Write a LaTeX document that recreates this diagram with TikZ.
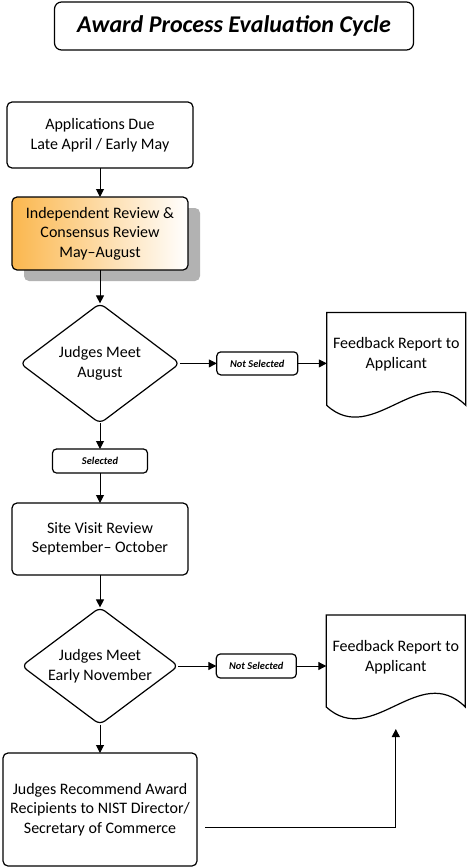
\documentclass[tikz,border=0pt]{standalone}
\usepackage{fontspec}
\setmainfont{Carlito}
\usetikzlibrary{positioning}
\usetikzlibrary{shapes.geometric}
\usetikzlibrary{arrows.meta}
\usetikzlibrary{shadows}
\definecolor{revorange}{RGB}{251,183,78}

\begin{document}
\begin{tikzpicture}
		[box/.style={rectangle, rounded corners=5pt, draw=black, line width=1.2pt, outer sep=0pt, align=center, font=\fontsize{16}{19.5}\selectfont},
		decision/.style={diamond, rounded corners=6pt, draw=black, line width=1.2pt, outer sep=0pt, align=center, inner sep=0pt, shape aspect=1.3, font=\fontsize{16}{19.5}\selectfont},
		tag/.style={rectangle, rounded corners=4pt, draw=black, line width=1.2pt, outer sep=0pt, inner sep=0pt, font=\fontsize{10.4}{12}\selectfont\bfseries\itshape},
		doc/.style={rectangle, minimum width=139pt, minimum height=84pt, outer sep=0pt, inner sep=0pt, align=center, font=\fontsize{16}{19.5}\selectfont},
		>={Triangle[length=8pt, width=8pt]}, line width=1pt]
		\useasboundingbox (0,0) rectangle (472pt,-867pt);
		\node[box, minimum width=359pt, minimum height=48pt, rounded corners=7pt, font=\fontsize{24}{28}\selectfont\bfseries\itshape] (title) at (234pt,-26pt) {Award Process Evaluation Cycle};
		\node[box, minimum width=186pt, minimum height=66pt] (apps) at (100pt,-135pt) {Applications Due\\Late April / Early May};
		\node[box, below=29pt of apps, minimum width=176pt, minimum height=73pt, shading=axis, left color=revorange, right color=white, drop shadow={shadow xshift=12pt, shadow yshift=-11pt, fill=black!30, opacity=1}] (indep) {Independent Review \&\\Consensus Review\\May–August};
		\node[decision, below=33.4pt of indep, minimum width=159.6pt, minimum height=120pt] (meet1) {Judges Meet\\August};
		\node[tag, right=37pt of meet1, minimum width=81pt, minimum height=23pt] (ns1) {Not Selected};
		\node[doc, right=29pt of ns1, yshift=9pt] (doc1) {Feedback Report to\\Applicant};
		\node[tag, below=25.6pt of meet1, minimum width=95pt, minimum height=24pt] (sel) {Selected};
		\node[box, below=30pt of sel, minimum width=176pt, minimum height=72pt] (site) {Site Visit Review\\September– October};
		\node[decision, below=32.4pt of site, minimum width=156.6pt, minimum height=117.2pt] (meet2) {Judges Meet\\Early November};
		\node[tag, right=38pt of meet2, minimum width=80pt, minimum height=24pt] (ns2) {Not Selected};
		\node[doc, right=30pt of ns2, yshift=9pt] (doc2) {Feedback Report to\\Applicant};
		\node[box, below=28.4pt of meet2, minimum width=194pt, minimum height=113pt] (final) {Judges Recommend Award\\Recipients to NIST Director/\\Secretary of Commerce};

		\draw[line width=1.2pt] (doc1.north west) -- (doc1.north east) -- ++(0,-93pt) .. controls +(-46pt,46pt) and +(46pt,-42pt) .. ++(-139pt,0) -- cycle;
		\draw[line width=1.2pt] (doc2.north west) -- (doc2.north east) -- ++(0,-92pt) .. controls +(-46pt,46pt) and +(46pt,-42pt) .. ++(-139pt,0) -- cycle;

		\draw[->] (apps) -- (indep);
		\draw[->] (indep) -- (meet1);
		\draw[->] (meet1) -- (ns1);
		\draw[->] (ns1.east) -- (ns1.east -| doc1.west);
		\draw[->] (meet1) -- (sel);
		\draw[->] (sel) -- (site);
		\draw[->] (site) -- (meet2);
		\draw[->] (meet2) -- (ns2);
		\draw[->] (ns2.east) -- (ns2.east -| doc2.west);
		\draw[->] (meet2) -- (final);
		\draw[->] ([xshift=8pt, yshift=-18pt]final.east) -| ([yshift=-30pt]doc2.south);
	\end{tikzpicture}
\end{document}
